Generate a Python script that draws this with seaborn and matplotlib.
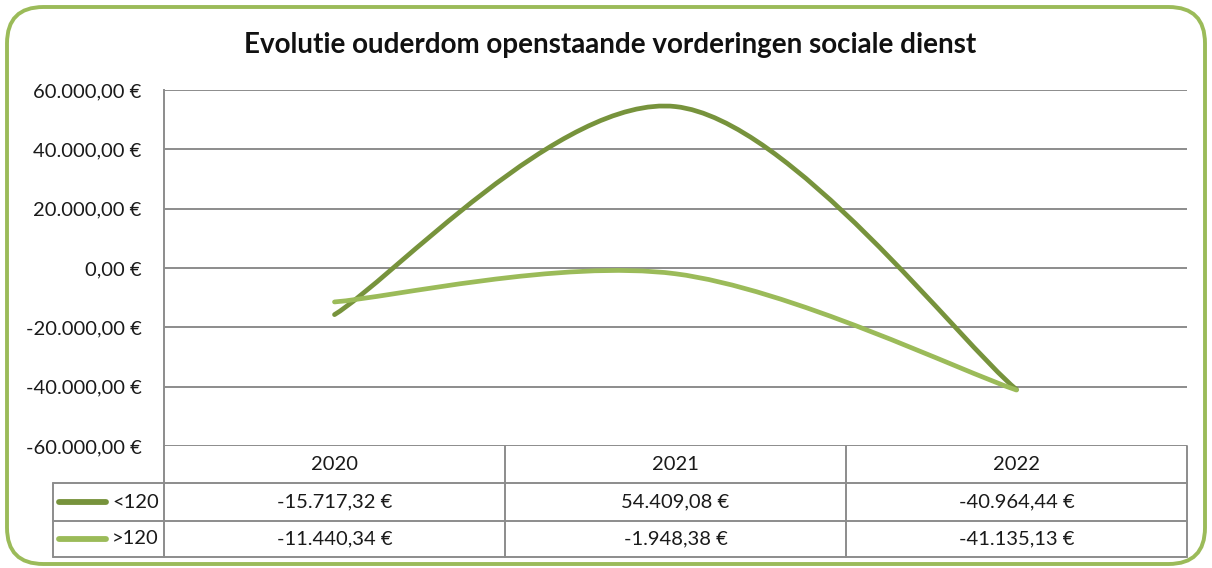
import numpy as np
import matplotlib
matplotlib.use("Agg")
import matplotlib.pyplot as plt
import seaborn as sns
from matplotlib.path import Path
from matplotlib.patches import PathPatch, FancyBboxPatch
from matplotlib.lines import Line2D

# ---- data ----
years = ["2020", "2021", "2022"]
series_names = ["<120", ">120"]
under_120 = [-15717.32, 54409.08, -40964.44]
over_120 = [-11440.34, -1948.38, -41135.13]
y_ticks = [-60000, -40000, -20000, 0, 20000, 40000, 60000]
title = "Evolutie ouderdom openstaande vorderingen sociale dienst"

colors = ["#77933c", "#9bbb59"]

sns.set_theme(style="white")
plt.rcParams["font.family"] = ["Lato", "DejaVu Sans"]

W, H = 1212, 568
fig = plt.figure(figsize=(W / 100, H / 100), dpi=100)
FS = 14.5
TXT_C = "#1a1a1a"


def fx(px):
    return px / W


def fy(py):
    return 1 - py / H


def euro(v):
    s = f"{v:,.2f}".replace(",", "X").replace(".", ",").replace("X", ".")
    return s + " €"


# border
border = FancyBboxPatch((fx(7), fy(564)), fx(1205) - fx(7), fy(7) - fy(564),
                        boxstyle="round,pad=0,rounding_size=0.03",
                        transform=fig.transFigure, facecolor="white",
                        edgecolor="#9bbb59", linewidth=2.8, zorder=0,
                        mutation_aspect=W / H)
fig.add_artist(border)

ax_left, ax_right, ax_top, ax_bot = 164, 1187, 90, 446
ax = fig.add_axes([fx(ax_left), fy(ax_bot), fx(ax_right) - fx(ax_left), fy(ax_top) - fy(ax_bot)])
ax.patch.set_alpha(0)

grid_c = "#8c8c8c"
ax.set_xlim(-0.5, len(years) - 0.5)
ax.set_ylim(y_ticks[0], y_ticks[-1])
ax.set_yticks(y_ticks)
ax.set_yticklabels([euro(v) for v in y_ticks], fontsize=FS, color=TXT_C)
ax.set_xticks([])
ax.tick_params(axis="y", length=0, pad=16)
ax.grid(axis="y", color=grid_c, linewidth=1.4)
ax.set_axisbelow(True)
for s in ["top", "right", "bottom"]:
    ax.spines[s].set_visible(False)
ax.spines["left"].set_color(grid_c)
ax.spines["left"].set_linewidth(1.4)


def smooth_path(xs, ys):
    pts = np.column_stack([xs, ys]).astype(float)
    n = len(pts)
    verts = [pts[0]]
    codes = [Path.MOVETO]
    for i in range(n - 1):
        p_prev = pts[max(i - 1, 0)]
        p0 = pts[i]
        p1 = pts[i + 1]
        p_next = pts[min(i + 2, n - 1)]
        c1 = p0 + (p1 - p_prev) / 6.0
        c2 = p1 - (p_next - p0) / 6.0
        verts += [c1, c2, p1]
        codes += [Path.CURVE4] * 3
    return Path(verts, codes)


xpos = np.arange(len(years))
for vals, c in zip([under_120, over_120], colors):
    patch = PathPatch(smooth_path(xpos, vals), facecolor="none", edgecolor=c,
                      linewidth=3.4, capstyle="round", zorder=3)
    ax.add_patch(patch)

# ---- data table ----
row_h = [446, 483, 521, 557]
col_x = [ax_left, 505, 846, ax_right]
key_left = 53


def hline(x0, x1, y):
    fig.add_artist(Line2D([fx(x0), fx(x1)], [fy(y), fy(y)], color=grid_c, lw=1.4,
                          transform=fig.transFigure))


def vline(x, y0, y1):
    fig.add_artist(Line2D([fx(x), fx(x)], [fy(y0), fy(y1)], color=grid_c, lw=1.4,
                          transform=fig.transFigure))


hline(key_left, ax_right, row_h[1])
hline(key_left, ax_right, row_h[2])
hline(key_left, ax_right, row_h[3])
vline(key_left, row_h[1], row_h[3])
for x in col_x:
    vline(x, row_h[0], row_h[3])

txt_kw = dict(transform=fig.transFigure, fontsize=FS, color=TXT_C, va="center")
for j, yr in enumerate(years):
    cx = (col_x[j] + col_x[j + 1]) / 2
    fig.text(fx(cx), fy((row_h[0] + row_h[1]) / 2), yr, ha="center", **txt_kw)

for i, (name, vals, c) in enumerate(zip(series_names, [under_120, over_120], colors)):
    cy = (row_h[i + 1] + row_h[i + 2]) / 2
    fig.add_artist(Line2D([fx(59), fx(106)], [fy(cy), fy(cy)], color=c, lw=4.2,
                          solid_capstyle="round", transform=fig.transFigure))
    fig.text(fx(159), fy(cy), name, ha="right", **txt_kw)
    for j, v in enumerate(vals):
        cx = (col_x[j] + col_x[j + 1]) / 2
        fig.text(fx(cx), fy(cy), euro(v), ha="center", **txt_kw)

fig.text(fx(610), fy(45), title, ha="center", va="center", fontsize=20,
         fontweight="bold", color="#111111", transform=fig.transFigure)

fig.savefig("out.png", dpi=100)
